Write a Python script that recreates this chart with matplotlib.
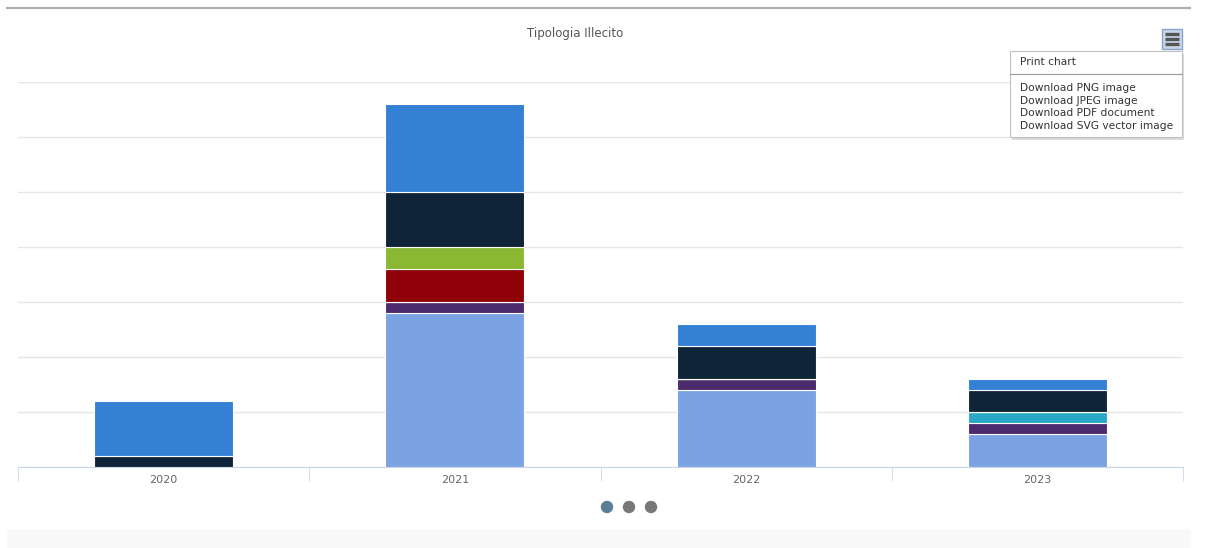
import numpy as np
import matplotlib.pyplot as plt
from matplotlib.patches import FancyBboxPatch, Rectangle, Ellipse
from matplotlib.lines import Line2D

years = ['2020', '2021', '2022', '2023']

# stacked from bottom to top
light_blue = [0, 14, 7, 3]
purple = [0, 1, 1, 1]
teal = [0, 0, 0, 1]
red = [0, 3, 0, 0]
green = [0, 2, 0, 0]
navy = [1, 5, 3, 2]
blue = [5, 8, 2, 1]

series = [light_blue, purple, teal, red, green, navy, blue]
colors = ['#7ba3e3', '#4b2a6e', '#2aa8c8', '#8f0008', '#8ab833', '#0f2339', '#3380d5']

menu_items = ['Download PNG image', 'Download JPEG image',
              'Download PDF document', 'Download SVG vector image']

W, H = 1205, 548
fig = plt.figure(figsize=(W / 100, H / 100), dpi=100)

def fx(px):
    return px / W

def fy(py):
    return 1 - py / H

ax = fig.add_axes([fx(18), fy(467), fx(1183) - fx(18), fy(82) - fy(467)])
x = np.arange(len(years))
bottom = np.zeros(len(years))
for vals, c in zip(series, colors):
    vals = np.array(vals, float)
    ax.bar(x, vals, 0.478, bottom=bottom, color=c, edgecolor='white', linewidth=0.8, zorder=3)
    bottom += vals

ax.set_xlim(-0.5, len(years) - 0.5)
ax.set_ylim(0, 35)
ax.set_yticks(np.arange(0, 36, 5))
ax.yaxis.grid(True, color='#e6e6e6', linewidth=1)
ax.tick_params(axis='y', length=0, labelleft=False)
ax.set_xticks(x)
ax.set_xticklabels(years, color='#666666', fontsize=8)
ax.tick_params(axis='x', length=0, pad=6)
ax.set_xticks(np.arange(-0.5, len(years)), minor=True)
ax.tick_params(axis='x', which='minor', length=10, color='#ccd6eb', direction='out')
for s in ['top', 'right', 'left']:
    ax.spines[s].set_visible(False)
ax.spines['bottom'].set_color('#ccd6eb')

# title
fig.text(fx(575), fy(33), 'Tipologia Illecito', ha='center', va='center',
         fontsize=8.5, color='#555555')

# top separator line
fig.add_artist(Line2D([fx(7), fx(1190)], [fy(8), fy(8)], color='#b0b0b0', linewidth=1.6))

# bottom faint band
fig.add_artist(Rectangle((fx(7), 0), fx(1190) - fx(7), fy(530), color='#f9f9f9', zorder=0))

# menu button
fig.add_artist(FancyBboxPatch((fx(1162), fy(49)), fx(20), fy(29) - fy(49),
                              boxstyle='square,pad=0',
                              facecolor='#c9d7ea', edgecolor='#8aa4c8', linewidth=1))
for yy in [34, 39, 44]:
    fig.add_artist(Line2D([fx(1165), fx(1179)], [fy(yy), fy(yy)], color='#555555',
                          linewidth=2.4, solid_capstyle='butt'))

# dropdown menu
fig.add_artist(Rectangle((fx(1012), fy(140)), fx(172), fy(54) - fy(140),
                         facecolor='#bbbbbb', edgecolor='none', alpha=0.5))
fig.add_artist(Rectangle((fx(1010), fy(137)), fx(172), fy(51) - fy(137),
                         facecolor='white', edgecolor='#c0c0c0', linewidth=0.8))
fig.text(fx(1020), fy(62), 'Print chart', fontsize=7.7, color='#333333', va='center')
fig.add_artist(Line2D([fx(1010), fx(1182)], [fy(74), fy(74)], color='#999999', linewidth=0.8))
for i, t in enumerate(menu_items):
    fig.text(fx(1020), fy(88 + i * 12.7), t, fontsize=7.7, color='#333333', va='center')

# pagination dots
for xx, c in zip([607, 629, 651], ['#5b7e96', '#777777', '#777777']):
    fig.add_artist(Ellipse((fx(xx), fy(507)), 11 / W, 11 / H, color=c,
                           transform=fig.transFigure))

fig.savefig('out.png', dpi=100)
